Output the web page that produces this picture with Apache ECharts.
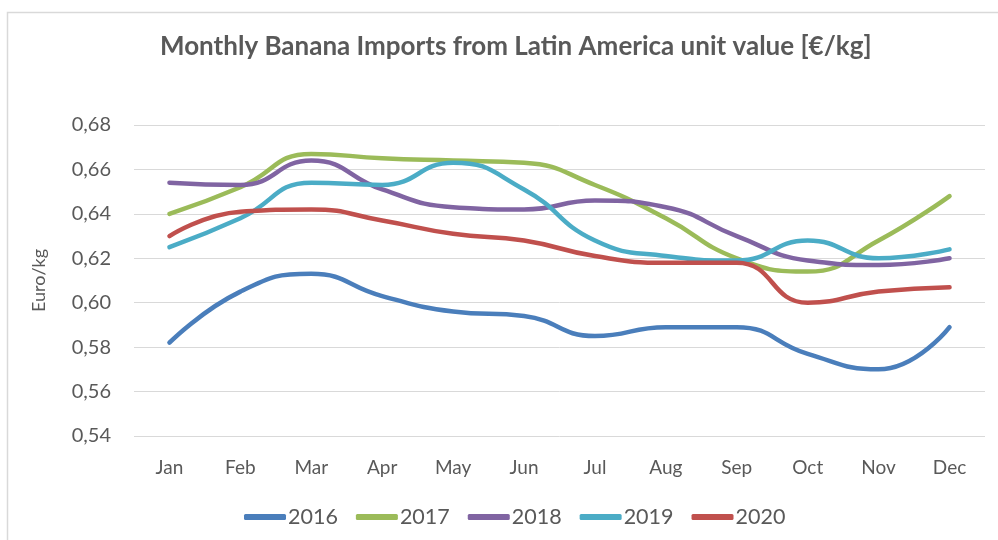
<!DOCTYPE html>
<html><head><meta charset="utf-8">
<script src="https://cdn.jsdelivr.net/npm/echarts@6/dist/echarts.min.js"></script>
<style>html,body{margin:0;padding:0;background:#fff}#c{width:998px;height:540px}</style>
</head><body><div id="c"></div>
<script>
var months = ['Jan','Feb','Mar','Apr','May','Jun','Jul','Aug','Sep','Oct','Nov','Dec'];
var s2016 = [0.582,0.605,0.613,0.603,0.596,0.594,0.585,0.589,0.589,0.577,0.570,0.589];
var s2017 = [0.640,0.652,0.667,0.665,0.664,0.663,0.653,0.638,0.620,0.614,0.628,0.648];
var s2018 = [0.654,0.653,0.664,0.651,0.643,0.642,0.646,0.643,0.630,0.619,0.617,0.620];
var s2019 = [0.625,0.638,0.654,0.653,0.663,0.651,0.628,0.621,0.619,0.628,0.620,0.624];
var s2020 = [0.630,0.641,0.642,0.637,0.631,0.628,0.621,0.618,0.618,0.600,0.605,0.607];
var names = ['2016','2017','2018','2019','2020'];
var colors = ['#4a7ebb','#9bbb59','#8064a2','#4bacc6','#c0504d'];
var all = [s2016,s2017,s2018,s2019,s2020];
var font = 'Lato, "Open Sans", sans-serif';
var chart = echarts.init(document.getElementById('c'));
chart.setOption({
  animation:false,
  backgroundColor:'#fff',
  graphic:[{type:'rect',shape:{x:7.5,y:12.5,width:1000,height:540},style:{fill:'none',stroke:'#d9d9d9',lineWidth:1.5},silent:true}],
  title:{text:'Monthly Banana Imports from Latin America unit value [€/kg]',left:155,top:29,
    textStyle:{color:'#595959',fontSize:26,fontWeight:'bold',fontFamily:font}},
  legend:{bottom:7,left:239,itemWidth:42,itemHeight:6,itemGap:18,icon:'roundRect',
    textStyle:{color:'#595959',fontSize:21.5,fontFamily:font,padding:[0,0,0,-3]},data:names},
  grid:{left:134,right:13,top:125,bottom:104},
  xAxis:{type:'category',data:months,boundaryGap:true,
    axisLine:{show:false},axisTick:{show:false},
    axisLabel:{color:'#595959',fontSize:19,fontFamily:font,margin:22}},
  yAxis:{type:'value',min:0.54,max:0.68,interval:0.02,name:'Euro/kg',nameLocation:'middle',nameGap:86,
    nameTextStyle:{color:'#595959',fontSize:18,fontFamily:font},
    axisLine:{show:false},axisTick:{show:false},
    splitLine:{lineStyle:{color:'#d9d9d9',width:1}},
    axisLabel:{color:'#595959',fontSize:20,fontFamily:font,margin:23,
      formatter:function(v){return v.toFixed(2).replace('.',',');}}},
  series: all.map(function(d,i){return {name:names[i],type:'line',data:d,smooth:0.5,symbol:'none',
    lineStyle:{width:4.5,color:colors[i],cap:'round'},itemStyle:{color:colors[i]},z:2+i};})
});
</script></body></html>
